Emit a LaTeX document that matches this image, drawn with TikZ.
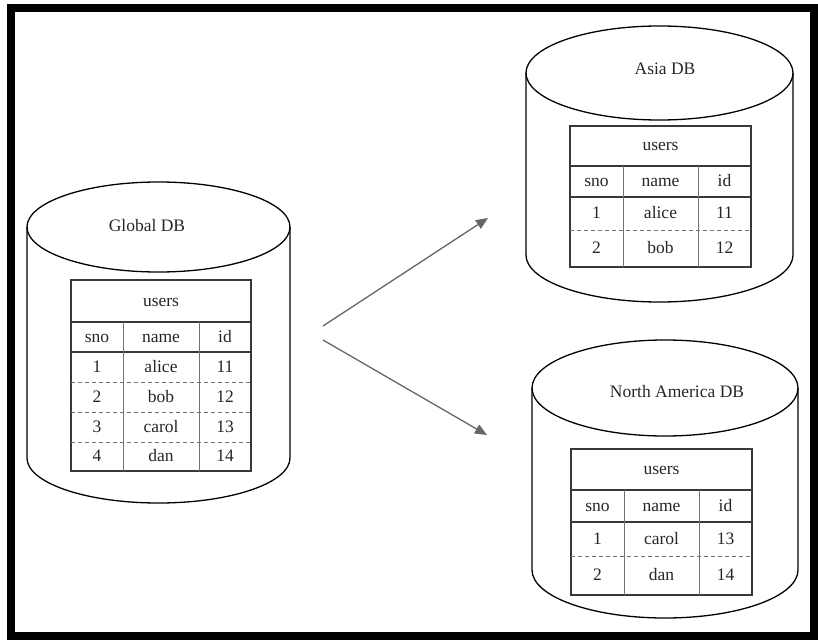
\documentclass[tikz,border=0pt]{standalone}
\usepackage{fontspec}
\setmainfont{Liberation Serif}
\usetikzlibrary{arrows.meta}
\begin{document}
\begin{tikzpicture}[x=1pt,y=-1pt,
  frame/.style={draw=black, line width=8pt},
  cyl/.style={draw=black, line width=1.3pt},
  tbl/.style={draw=black!78, line width=1.2pt},
  colsep/.style={draw=black!55, line width=1pt},
  rowsep/.style={draw=black!55, line width=1pt, dash pattern=on 4pt off 3pt},
  lbl/.style={font=\fontsize{17.5}{20}\selectfont, inner sep=0pt, text height=13pt, text depth=3pt, text=black!85},
  arr/.style={draw=black!60, line width=1.3pt, -{Triangle[length=12pt,width=10pt]}}]

\useasboundingbox (0,0) rectangle (818,639);
\draw[frame] (11,8) rectangle (814,635.5);

% ---------- cylinders ----------
\newcommand\dbcyl[5]{% cx, top centre y, bottom centre y, rx, ry
  \draw[cyl] (#1,#2) ellipse [x radius=#4, y radius=#5];
  \draw[cyl] ({#1-#4},#2) -- ({#1-#4},#3)
     arc[start angle=180, end angle=0, x radius=#4, y radius=#5] -- ({#1+#4},#2);
}
\dbcyl{158.5}{227}{458}{131.5}{45}
\dbcyl{659.5}{73}{255}{133.5}{47}
\dbcyl{665}{388}{570}{133}{48}

\node[lbl] (gtitle) at (147,226) {Global DB};
\node[lbl] (atitle) at (665,70) {Asia DB};
\node[lbl] (ntitle) at (677,392) {North America DB};

% ---------- Global table ----------
\draw[tbl] (71,280) rectangle (251,471);
\draw[tbl] (71,322) -- (251,322);
\draw[tbl] (71,352) -- (251,352);
\draw[colsep] (123,322) -- (123,471) (199,322) -- (199,471);
\draw[rowsep] (71,382) -- (251,382) (71,412) -- (251,412) (71,442) -- (251,442);
\node[lbl] (gusers) at (161,301) {users};
\node[lbl] (gsno) at (97,337) {sno};
\node[lbl] (gname) at (161,337) {name};
\node[lbl] (gid) at (225,337) {id};
\foreach \r/\a/\b/\c/\y in {1/1/alice/11/367, 2/2/bob/12/397, 3/3/carol/13/427, 4/4/dan/14/456.5}{
  \node[lbl] (gs\r) at (97,\y) {\a};
  \node[lbl] (gn\r) at (161,\y) {\b};
  \node[lbl] (gi\r) at (225,\y) {\c};
}

% ---------- Asia table ----------
\draw[tbl] (570,126) rectangle (751,267);
\draw[tbl] (570,166) -- (751,166);
\draw[tbl] (570,197) -- (751,197);
\draw[colsep] (623,166) -- (623,267) (698,166) -- (698,267);
\draw[rowsep] (570,230) -- (751,230);
\node[lbl] (ausers) at (660.5,146) {users};
\node[lbl] (asno) at (596.5,181.5) {sno};
\node[lbl] (aname) at (660.5,181.5) {name};
\node[lbl] (aid) at (724.5,181.5) {id};
\foreach \r/\a/\b/\c/\y in {1/1/alice/11/213.5, 2/2/bob/12/248.5}{
  \node[lbl] (as\r) at (596.5,\y) {\a};
  \node[lbl] (an\r) at (660.5,\y) {\b};
  \node[lbl] (ai\r) at (724.5,\y) {\c};
}

% ---------- North America table ----------
\draw[tbl] (571,449) rectangle (752,595);
\draw[tbl] (571,490) -- (752,490);
\draw[tbl] (571,522) -- (752,522);
\draw[colsep] (624,490) -- (624,595) (699,490) -- (699,595);
\draw[rowsep] (571,556) -- (752,556);
\node[lbl] (nusers) at (661.5,469.5) {users};
\node[lbl] (nsno) at (597.5,506) {sno};
\node[lbl] (nname) at (661.5,506) {name};
\node[lbl] (nid) at (725.5,506) {id};
\foreach \r/\a/\b/\c/\y in {1/1/carol/13/539, 2/2/dan/14/575.5}{
  \node[lbl] (ns\r) at (597.5,\y) {\a};
  \node[lbl] (nn\r) at (661.5,\y) {\b};
  \node[lbl] (ni\r) at (725.5,\y) {\c};
}

% ---------- arrows ----------
\coordinate (srcup) at (323,326);
\coordinate (srcdown) at (323,340);
\coordinate (asiain) at (488,218);
\coordinate (nain) at (487,435);
\draw[arr] (srcup) -- (asiain);
\draw[arr] (srcdown) -- (nain);
\end{tikzpicture}
\end{document}
